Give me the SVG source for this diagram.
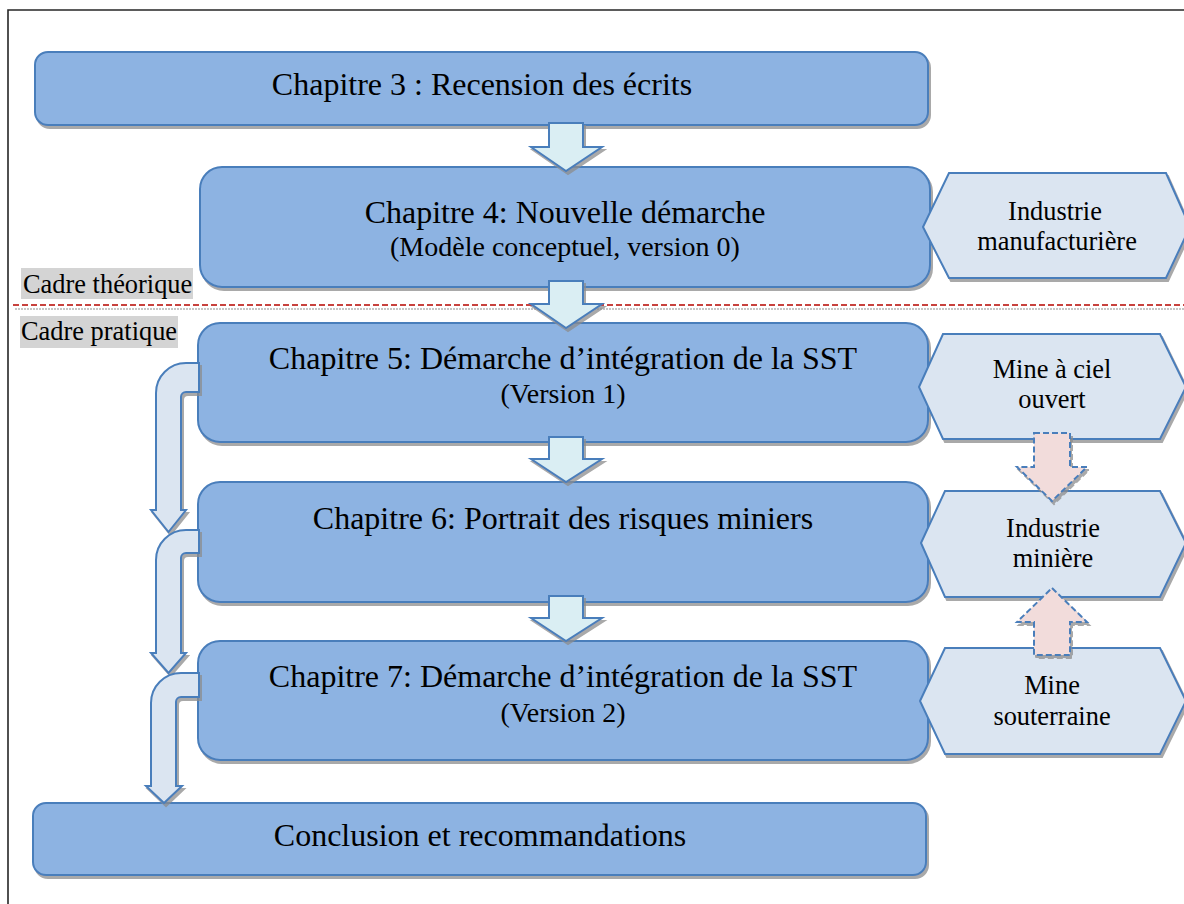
<svg xmlns="http://www.w3.org/2000/svg" width="1184" height="904" viewBox="0 0 1184 904">
  <defs>
    <filter id="shade" x="-5%" y="-10%" width="115%" height="130%">
      <feDropShadow dx="2" dy="3" stdDeviation="0.6" flood-color="#8c8c8c" flood-opacity="0.75"/>
    </filter>
    <style>
      .frame { fill: none; stroke: #262626; stroke-width: 1.6; }
      .box { fill: #8db3e2; stroke: #4a7ebb; stroke-width: 2; filter: url(#shade); }
      .hex { fill: #dbe5f1; stroke: #4a7ebb; stroke-width: 2; filter: url(#shade); }
      .down { fill: #daeef3; stroke: #4a7ebb; stroke-width: 2; filter: url(#shade); }
      .bent { fill: #dbe5f1; stroke: #4a7ebb; stroke-width: 2; filter: url(#shade); }
      .pink { fill: #f2dcdb; stroke: #4a7ebb; stroke-width: 2; stroke-dasharray: 6 3; filter: url(#shade); }
      .divider { stroke: #c8423e; stroke-width: 1.8; stroke-dasharray: 6 3; }
      .divider-shade { stroke: #b4b4b4; stroke-width: 1.6; stroke-dasharray: 2 1; }
      .tag { fill: #d4d4d4; }
      text { font-family: "Liberation Serif", "Times New Roman", serif; fill: #000; text-anchor: middle; }
      .t1 { font-size: 32px; }
      .t1s { font-size: 28px; }
      .t2 { font-size: 26.4px; }
      .tagtext { font-size: 26.4px; text-anchor: start; }
    </style>
  </defs>

  <rect width="1184" height="904" fill="#ffffff"/>
  <!-- page frame -->
  <path class="frame" d="M8,904 V10 H1184"/>

  <!-- theory / practice split -->
  <g id="labels">
    <line class="divider-shade" x1="15" y1="309" x2="1184" y2="309"/>
    <line class="divider" x1="13" y1="305" x2="1184" y2="305"/>
    <rect class="tag" x="21" y="268" width="172" height="31"/>
    <text class="tagtext" x="23" y="293">Cadre théorique</text>
    <rect class="tag" x="20" y="316" width="158" height="32"/>
    <text class="tagtext" x="21" y="340">Cadre pratique</text>
  </g>

  <!-- chapter boxes -->
  <g id="ch3">
    <rect class="box" x="35" y="52" width="893" height="73" rx="13"/>
    <text class="t1" x="482" y="95">Chapitre 3 : Recension des écrits</text>
  </g>
  <g id="ch4">
    <rect class="box" x="200" y="167" width="730" height="120" rx="22"/>
    <text class="t1" x="565" y="223">Chapitre 4: Nouvelle démarche</text>
    <text class="t1s" x="565" y="256">(Modèle conceptuel, version 0)</text>
  </g>
  <g id="ch5">
    <rect class="box" x="198" y="323" width="730" height="119" rx="22"/>
    <text class="t1" x="563" y="369">Chapitre 5: Démarche d’intégration de la SST</text>
    <text class="t1s" x="563" y="403">(Version 1)</text>
  </g>
  <g id="ch6">
    <rect class="box" x="198" y="482" width="730" height="120" rx="22"/>
    <text class="t1" x="563" y="529">Chapitre 6: Portrait des risques miniers</text>
  </g>
  <g id="ch7">
    <rect class="box" x="198" y="641" width="730" height="119" rx="22"/>
    <text class="t1" x="563" y="687">Chapitre 7: Démarche d’intégration de la SST</text>
    <text class="t1s" x="563" y="722">(Version 2)</text>
  </g>
  <g id="conclusion">
    <rect class="box" x="33" y="803" width="893" height="72" rx="13"/>
    <text class="t1" x="480" y="846">Conclusion et recommandations</text>
  </g>

  <!-- context hexagons -->
  <g id="manufacturing">
    <polygon class="hex" points="923,227 949,173 1166,173 1190,227 1166,278 949,278"/>
    <text class="t2" x="1055" y="220">Industrie</text>
    <text class="t2" x="1057" y="250">manufacturière</text>
  </g>
  <g id="open-pit">
    <polygon class="hex" points="919,387 943,334 1160,334 1186,387 1160,439 943,439"/>
    <text class="t2" x="1052" y="378">Mine à ciel</text>
    <text class="t2" x="1052" y="408">ouvert</text>
  </g>
  <g id="mining">
    <polygon class="hex" points="921,543 945,491 1160,491 1186,543 1160,597 945,597"/>
    <text class="t2" x="1053" y="537">Industrie</text>
    <text class="t2" x="1053" y="567">minière</text>
  </g>
  <g id="underground">
    <polygon class="hex" points="920,701 945,648 1160,648 1186,701 1160,754 945,754"/>
    <text class="t2" x="1052" y="694">Mine</text>
    <text class="t2" x="1052" y="725">souterraine</text>
  </g>

  <!-- connectors -->
  <g id="connectors">
    <polygon class="down" points="549,123 583,123 583,147 602,147 566,171 531,147 549,147"/>
    <polygon class="down" points="549,281 583,281 583,304 602,304 566,328 531,304 549,304"/>
    <polygon class="down" points="549,437 583,437 583,459 602,459 566,482 531,459 549,459"/>
    <polygon class="down" points="549,596 583,596 583,618 602,618 566,641 531,618 549,618"/>

    <path class="bent" d="M199,363 H186 A30,30 0 0 0 156,393 V510 H151 L168.5,532 L186,510 H181 V397 A5,5 0 0 1 186,392 H199 Z"/>
    <path class="bent" d="M199,530 H186 A30,30 0 0 0 156,560 V653 H151 L168.5,673 L186,653 H181 V558 A5,5 0 0 1 186,553 H199 Z"/>
    <path class="bent" d="M199,673 H181 A30,30 0 0 0 151,703 V786 H146 L164,803 L182,786 H176 V702 A5,5 0 0 1 181,697 H199 Z"/>

    <path class="pink" d="M1034,433 H1070 V467 H1087 L1052,501 L1017,467 H1034 Z"/>
    <path class="pink" d="M1052,588 L1087,622 H1070 V655 H1034 V622 H1017 Z"/>
  </g>
</svg>
